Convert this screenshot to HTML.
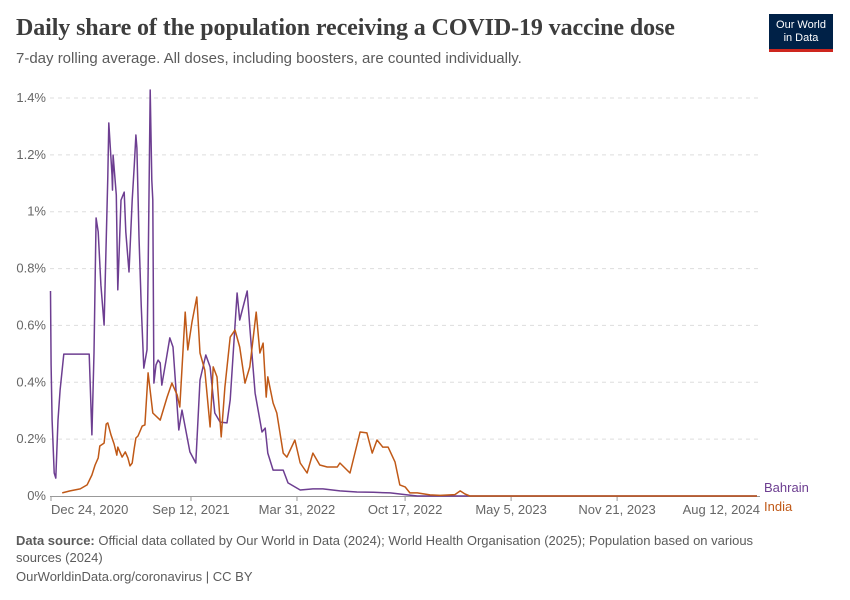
<!DOCTYPE html>
<html><head><meta charset="utf-8">
<style>
body{margin:0;width:850px;height:600px;background:#fff;font-family:"Liberation Sans",sans-serif;position:relative;overflow:hidden}
h1{position:absolute;left:16px;top:15px;margin:0;font-family:"Liberation Serif",serif;font-weight:bold;font-size:24px;color:#3d3d3d;letter-spacing:-0.1px}
.sub{position:absolute;left:16px;top:50px;font-size:15px;color:#5b5b5b}
.logo{position:absolute;left:769px;top:14px;width:64px;height:38px;background:#002147;color:#fff;font-size:11px;text-align:center;line-height:13px;box-sizing:border-box;padding-top:5px;border-bottom:3px solid #ce261e}
.foot{position:absolute;left:16px;font-size:13px;color:#5b5b5b}
</style></head><body>
<h1>Daily share of the population receiving a COVID-19 vaccine dose</h1>
<div class="sub">7-day rolling average. All doses, including boosters, are counted individually.</div>
<div class="logo">Our World<br>in Data</div>
<svg id="chart" width="850" height="530" style="position:absolute;left:0;top:0"></svg>
<div class="foot" style="top:532px;width:780px;line-height:17px"><b>Data source:</b> Official data collated by Our World in Data (2024); World Health Organisation (2025); Population based on various sources (2024)</div>
<div class="foot" style="top:569px">OurWorldinData.org/coronavirus | CC BY</div>
<script>
const bahrainDays=[1,2,4,8,11,15,19,26,74,79,83,87,91,96,102,109,111,117,118,119,125,128,134,140,143,149,155,159,162,164,168,172,177,183,185,189,192,194,196,200,204,208,211,219,226,232,243,249,264,275,283,294,302,311,321,334,340,353,358,372,377,387,400,406,411,421,440,449,472,496,515,547,579,610,642,674,693,1334];
const bahrainVals=[0.721,0.461,0.267,0.081,0.063,0.267,0.373,0.499,0.499,0.215,0.503,0.978,0.929,0.742,0.601,1.122,1.312,1.129,1.076,1.199,1.059,0.725,1.041,1.069,0.929,0.788,1.041,1.164,1.270,1.224,0.911,0.672,0.450,0.514,0.784,1.428,1.111,1.041,0.397,0.461,0.478,0.468,0.390,0.478,0.556,0.524,0.232,0.302,0.155,0.116,0.408,0.496,0.454,0.292,0.260,0.257,0.338,0.714,0.619,0.721,0.594,0.362,0.225,0.239,0.151,0.091,0.091,0.046,0.021,0.025,0.025,0.018,0.014,0.013,0.011,0.004,0,0];
const indiaDays=[23,38,57,70,79,85,91,94,102,106,109,115,121,126,128,136,142,147,151,155,159,162,166,174,179,185,194,208,221,230,240,245,255,260,268,277,283,292,302,308,315,323,330,340,349,358,368,377,389,396,402,408,411,421,428,440,447,462,472,485,496,509,523,542,547,566,585,598,608,617,628,638,651,660,670,679,693,717,736,764,774,783,792,1334];
const indiaVals=[0.011,0.018,0.025,0.039,0.074,0.109,0.134,0.176,0.186,0.253,0.257,0.215,0.183,0.144,0.172,0.137,0.155,0.134,0.106,0.116,0.169,0.204,0.211,0.246,0.250,0.433,0.292,0.267,0.348,0.397,0.355,0.313,0.647,0.514,0.612,0.700,0.503,0.443,0.243,0.454,0.419,0.208,0.383,0.559,0.584,0.524,0.397,0.454,0.647,0.503,0.538,0.348,0.419,0.327,0.292,0.151,0.137,0.197,0.116,0.081,0.151,0.109,0.102,0.102,0.116,0.081,0.225,0.222,0.151,0.197,0.172,0.172,0.120,0.039,0.032,0.011,0.011,0.004,0.002,0.005,0.018,0.007,0,0];
const yTicks=[0,0.2,0.4,0.6,0.8,1,1.2,1.4];
const yTickLabels=["0%","0.2%","0.4%","0.6%","0.8%","1%","1.2%","1.4%"];
const xTickDays=[266,466,670,870,1070];
const xTickLabels=["Sep 12, 2021","Mar 31, 2022","Oct 17, 2022","May 5, 2023","Nov 21, 2023"];

const NS="http://www.w3.org/2000/svg";
const svg=document.getElementById('chart');
const x=d=>50+d*0.53;
const y=v=>496-v*(398/1.4);
function mk(tag,attrs,txt){const e=document.createElementNS(NS,tag);for(const k in attrs)e.setAttribute(k,attrs[k]);if(txt!=null)e.textContent=txt;svg.appendChild(e);return e;}
yTicks.forEach((t,i)=>{
  if(t>0){const g=mk('line',{x1:50,x2:760,y1:y(t),y2:y(t),stroke:'#ddd','stroke-dasharray':'4,4'});
  
  }
  const l=mk('text',{x:46,y:y(t)+4,'text-anchor':'end','font-size':13,fill:'#666'},yTickLabels[i]);
  
  
});
const ax=mk('line',{x1:50,x2:760,y1:496.5,y2:496.5,stroke:'#999'});


const t0=mk('line',{x1:51,x2:51,y1:496,y2:501,stroke:'#999'});


const first=mk('text',{x:51,y:514,'font-size':13,fill:'#666'},"Dec 24, 2020");


xTickDays.forEach((d,i)=>{
  const t=mk('line',{x1:x(d),x2:x(d),y1:496,y2:501,stroke:'#999'});
  
  
  const l=mk('text',{x:x(d),y:514,'text-anchor':'middle','font-size':13,fill:'#666'},xTickLabels[i]);
  
  
});
const last=mk('text',{x:760,y:514,'text-anchor':'end','font-size':13,fill:'#666'},"Aug 12, 2024");


function line(days,vals,color,name){
  const p=mk('path',{d:days.map((d,i)=>(i?'L':'M')+x(d).toFixed(1)+','+y(vals[i]).toFixed(1)).join(''),fill:'none',stroke:color,'stroke-width':1.5,'stroke-linejoin':'round'});
  
  
}
line(bahrainDays,bahrainVals,'#6d3e91','bahrain-line');
line(indiaDays,indiaVals,'#c05917','india-line');
const lb=mk('text',{x:764,y:492,'font-size':13,fill:'#6d3e91'},"Bahrain");


const li=mk('text',{x:764,y:511,'font-size':13,fill:'#c05917'},"India");


</script>
</body></html>
